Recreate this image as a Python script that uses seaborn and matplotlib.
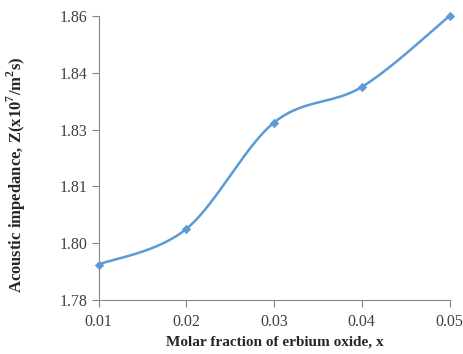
#!/usr/bin/env python3

import matplotlib as mpl
import matplotlib.pyplot as plt
import numpy as np
import pandas as pd
import seaborn as sns
from matplotlib.ticker import FormatStrFormatter

# Data
molar_fraction = [0.01, 0.02, 0.03, 0.04, 0.05]
impedance = [1.790, 1.800, 1.830, 1.840, 1.860]

x_ticks = [0.01, 0.02, 0.03, 0.04, 0.05]
y_ticks = [1.78, 1.796, 1.812, 1.828, 1.844, 1.86]

line_color = '#5B9BD5'
axis_color = '#868686'


def smooth_curve(xs, ys, n=40):
    """Excel-like smoothed line: Catmull-Rom segments as cubic Beziers."""
    pts = np.column_stack([xs, ys])
    padded = np.vstack([pts[0], pts, pts[-1]])
    out = []
    t = np.linspace(0, 1, n)[:, None]
    for i in range(len(pts) - 1):
        p0, p1, p2, p3 = padded[i], padded[i + 1], padded[i + 2], padded[i + 3]
        c1 = p1 + (p2 - p0) / 6
        c2 = p2 - (p3 - p1) / 6
        seg = ((1 - t) ** 3) * p1 + 3 * ((1 - t) ** 2) * t * c1 + 3 * (1 - t) * t ** 2 * c2 + t ** 3 * p2
        out.append(seg if i == 0 else seg[1:])
    out = np.vstack(out)
    return pd.DataFrame({'x': out[:, 0], 'y': out[:, 1]})


sns.set_style('white')
mpl.rcParams['font.family'] = ['Liberation Serif', 'DejaVu Serif']
mpl.rcParams['mathtext.fontset'] = 'custom'
mpl.rcParams['mathtext.rm'] = 'Liberation Serif'
mpl.rcParams['mathtext.bf'] = 'Liberation Serif:bold'

df = pd.DataFrame({'x': molar_fraction, 'y': impedance})
curve = smooth_curve(molar_fraction, impedance)

fig = plt.figure(figsize=(4.63, 3.54), dpi=100)
ax = fig.add_axes([98.5 / 463, 1 - 300 / 354, (449.5 - 98.5) / 463, (300 - 16) / 354])

sns.lineplot(x='x', y='y', data=curve, ax=ax, color=line_color, linewidth=1.8, sort=False)
sns.scatterplot(x='x', y='y', data=df, ax=ax, color=line_color, marker='D', s=18,
                edgecolor=line_color, linewidth=0.5, zorder=3)

ax.set_xlim(0.01, 0.05)
ax.set_ylim(1.78, 1.86)
ax.set_xticks(x_ticks)
ax.set_yticks(y_ticks)
ax.xaxis.set_major_formatter(FormatStrFormatter('%.2f'))
ax.yaxis.set_major_formatter(FormatStrFormatter('%.2f'))
ax.tick_params(axis='both', which='major', labelsize=11.5, direction='out', length=5,
               width=0.8, color=axis_color, labelcolor='#404040', pad=3)
ax.tick_params(axis='x', pad=5)
ax.tick_params(axis='both', bottom=True, left=True)

for side in ['top', 'right']:
    ax.spines[side].set_visible(False)
for side in ['left', 'bottom']:
    ax.spines[side].set_color(axis_color)
    ax.spines[side].set_linewidth(0.8)
for c in ax.collections + ax.lines:
    c.set_clip_on(False)

ax.set_xlabel('Molar fraction of erbium oxide, x', fontsize=11, weight='bold')
ax.xaxis.set_label_coords(0.503, -0.125)
ax.set_ylabel(r'Acoustic impedance, Z(x10$^{\mathbf{7}}$/m$^{\mathbf{2}}$s)', fontsize=12, weight='bold')
ax.yaxis.set_label_coords(-0.2, 0.44)

plt.savefig('out.png', dpi=100)
plt.close()
